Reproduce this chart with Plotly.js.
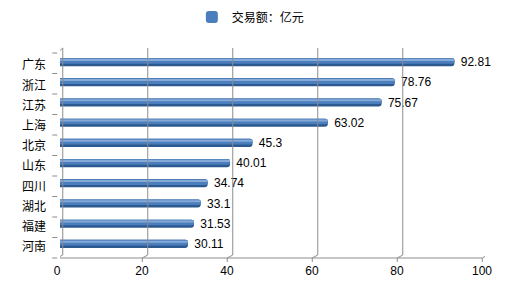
<!DOCTYPE html>
<html>
<head>
<meta charset="utf-8">
<script src="https://cdn.plot.ly/plotly-3.0.1.min.js"></script>
<style>html,body{margin:0;padding:0;background:#fff;}#chart{width:513px;height:284px;}</style>
</head>
<body>
<div id="chart"></div>
<script>
const categories = ['广东','浙江','江苏','上海','北京','山东','四川','湖北','福建','河南'];
const values = [92.81, 78.76, 75.67, 63.02, 45.3, 40.01, 34.74, 33.1, 31.53, 30.11];
const xTicks = [0, 20, 40, 60, 80, 100];
const seriesName = '交易额：亿元';

const W = 513, H = 284;
const mL = 60, mR = 28, mT = 52, mB = 30;
const plotW = W - mL - mR, plotH = H - mT - mB;
const pxPerUnit = plotW / 100;
const dx = 2.75 / pxPerUnit;           // depth offset in data units
const py = p => p / plotH;             // pixels -> paper units
const gridColor = '#8c8c8c';

const shapes = [];
xTicks.forEach(t => {
  shapes.push({type:'line', xref:'x', yref:'paper', x0:t+dx, x1:t+dx, y0:1+py(4), y1:-py(1), line:{color:gridColor, width:1}});
  shapes.push({type:'line', xref:'x', yref:'paper', x0:t+dx, x1:t-dx, y0:-py(1), y1:-py(4), line:{color:gridColor, width:1}});
  shapes.push({type:'line', xref:'x', yref:'paper', x0:t-dx, x1:t-dx, y0:-py(4), y1:-py(8), line:{color:gridColor, width:1}});
});
shapes.push({type:'line', xref:'x', yref:'paper', x0:-dx, x1:100-dx, y0:-py(4), y1:-py(4), line:{color:gridColor, width:1}});
shapes.push({type:'line', xref:'x', yref:'paper', x0:-dx, x1:-dx, y0:1-py(1), y1:-py(4), line:{color:gridColor, width:1}});
shapes.push({type:'line', xref:'x', yref:'paper', x0:-dx, x1:dx, y0:1-py(1), y1:1+py(4), line:{color:gridColor, width:1}});
for (let k = 0; k <= categories.length; k++) {
  const ypx = 53 + k * 20.5;
  const yp = (H - mB - ypx) / plotH;
  shapes.push({type:'line', xref:'paper', yref:'paper', x0:-dx/100, x1:-dx/100 - 5/plotW, y0:yp, y1:yp, line:{color:gridColor, width:1}});
}

const common = {type:'bar', orientation:'h', y:categories, x:values, hoverinfo:'skip'};
const traces = [
  Object.assign({}, common, {name:'base', showlegend:false, width:0.40, offset:-0.20,
    marker:{color:'#2c5a90', cornerradius:3},
    text:values.map(String), texttemplate:'\u00a0%{text}', textposition:'outside', cliponaxis:false, constraintext:'none',
    textfont:{family:'Liberation Sans, Arial, sans-serif', size:12, color:'#000'}}),
  Object.assign({}, common, {name:seriesName, showlegend:true, width:0.28, offset:-0.20,
    marker:{color:'#4a7ebc', cornerradius:3}}),
  Object.assign({}, common, {name:'hl', showlegend:false, width:0.10, offset:-0.16,
    marker:{color:'#86a9d8', cornerradius:2}})
];

const layout = {
  width:W, height:H,
  margin:{l:mL, r:mR, t:mT, b:mB, pad:0},
  paper_bgcolor:'#fff', plot_bgcolor:'rgba(0,0,0,0)',
  barmode:'overlay',
  showlegend:true,
  legend:{orientation:'h', xref:'container', yref:'container', x:0.374, y:1-17/H, xanchor:'left', yanchor:'middle',
    itemwidth:30, font:{family:'Noto Sans CJK SC, sans-serif', size:12, color:'#000'}, bgcolor:'rgba(0,0,0,0)'},
  xaxis:{range:[0,100], tickvals:xTicks, ticktext:xTicks.map(String), showgrid:false, zeroline:false, showline:false,
    ticks:'', ticklabelshift:-3, ticklabelstandoff:8, fixedrange:true,
    tickfont:{family:'Liberation Sans, Arial, sans-serif', size:12, color:'#000'}},
  yaxis:{type:'category', categoryorder:'array', categoryarray:categories, range:[categories.length-0.5, -0.5],
    showgrid:false, zeroline:false, showline:false, ticks:'', ticklabelstandoff:13, ticklabelshift:-3, fixedrange:true,
    tickfont:{family:'Noto Sans CJK SC, sans-serif', size:12, color:'#000'}},
  shapes:shapes,
  font:{family:'Noto Sans CJK SC, sans-serif'}
};

Plotly.newPlot('chart', traces, layout, {staticPlot:true, displayModeBar:false});
</script>
</body>
</html>
